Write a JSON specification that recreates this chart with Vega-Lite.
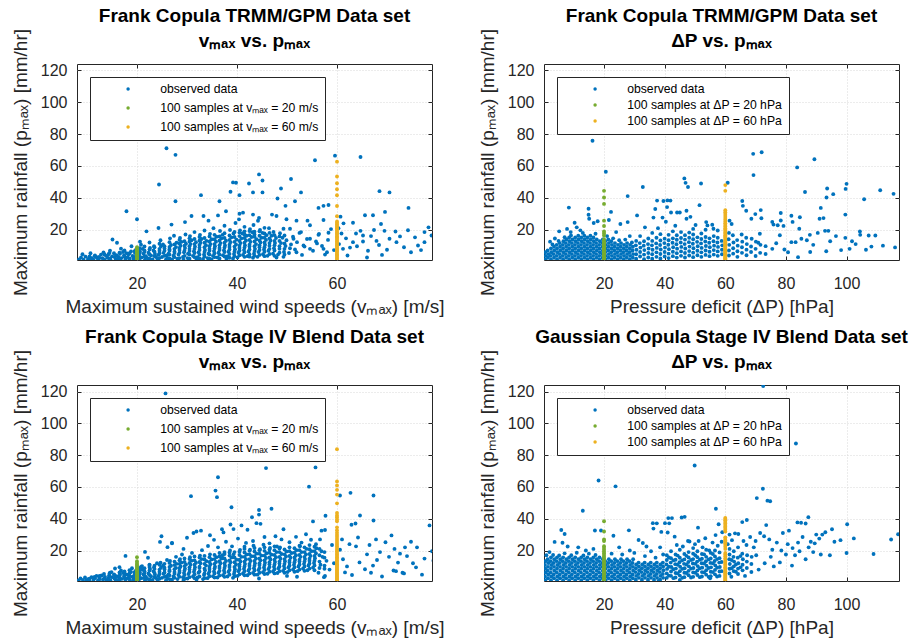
{
"$schema":"https://vega.github.io/schema/vega-lite/v6.json",
"background":"white",
"padding":{"left":10,"top":6,"right":2,"bottom":2},
"config":{
"font":"Liberation Sans",
"view":{"stroke":"#262626","strokeWidth":1},
"axis":{"labelFont":"Liberation Sans","labelFontSize":16,"labelColor":"#262626","titleFont":"Liberation Sans","titleFontSize":19,"titleFontWeight":"normal","titleColor":"#262626","gridColor":"#d9d9d9","gridDash":[1,2],"gridWidth":1,"tickColor":"#262626","tickSize":-4,"tickWidth":1,"domain":false,"labelFlush":false,"labelOverlap":false,"minExtent":0},
"axisX":{"labelPadding":19,"titlePadding":6},
"axisY":{"labelPadding":14,"titlePadding":10},
"title":{"font":"Liberation Sans","fontSize":19,"fontWeight":"bold","color":"#000000","lineHeight":25,"frame":"group","anchor":"middle","offset":-23},
"legend":{"orient":"top-left","offset":13,"padding":6,"strokeColor":"#262626","fillColor":"white","strokeWidth":1,"labelFont":"Liberation Sans","labelFontSize":12.2,"labelColor":"#000000","labelLimit":300,"symbolSize":12,"symbolType":"circle","symbolStrokeWidth":0,"symbolOffset":26,"labelOffset":26,"rowPadding":6,"cornerRadius":0}
},
"datasets":{
"p1o":[
{"x":8.4,"y":1.4},{"x":8.8,"y":2.6},{"x":9.3,"y":1.2},{"x":9.7,"y":3.1},{"x":9.1,"y":4.6},
{"x":10.2,"y":1.6},{"x":10.5,"y":3.3},{"x":10.9,"y":2.2},{"x":11.3,"y":1.2},{"x":11.6,"y":3.9},{"x":11.9,"y":2.7},{"x":10.7,"y":5.2},
{"x":12.2,"y":1.3},{"x":12.4,"y":3.0},{"x":12.8,"y":4.4},{"x":13.1,"y":2.1},{"x":13.5,"y":1.2},{"x":13.8,"y":3.6},{"x":13.3,"y":5.8},
{"x":14.1,"y":2.4},{"x":14.3,"y":4.6},{"x":14.7,"y":1.3},{"x":15.0,"y":3.3},{"x":15.4,"y":5.2},{"x":15.7,"y":1.9},{"x":15.9,"y":4.0},{"x":14.6,"y":6.9},
{"x":16.1,"y":1.4},{"x":16.3,"y":3.0},{"x":16.6,"y":4.9},{"x":16.9,"y":2.2},{"x":17.2,"y":6.0},{"x":17.4,"y":3.8},{"x":17.7,"y":1.5},{"x":17.9,"y":5.3},{"x":16.8,"y":8.1},
{"x":18.1,"y":2.8},{"x":18.3,"y":4.6},{"x":18.5,"y":1.2},{"x":18.8,"y":6.4},{"x":19.1,"y":3.5},{"x":19.3,"y":1.9},{"x":19.6,"y":5.4},{"x":19.8,"y":7.4},{"x":18.9,"y":9.6},
{"x":20.2,"y":1.5},{"x":20.4,"y":4.0},{"x":20.6,"y":6.2},{"x":20.9,"y":2.6},{"x":21.1,"y":8.0},{"x":21.3,"y":5.0},{"x":21.6,"y":1.3},{"x":21.8,"y":3.4},{"x":21.5,"y":7.0},{"x":20.8,"y":10.6},
{"x":22.1,"y":2.2},{"x":22.3,"y":5.6},{"x":22.6,"y":8.6},{"x":22.8,"y":3.9},{"x":23.1,"y":1.4},{"x":23.3,"y":7.0},{"x":23.6,"y":4.8},{"x":23.8,"y":2.9},{"x":23.4,"y":9.6},{"x":22.5,"y":12.0},
{"x":24.1,"y":1.6},{"x":24.3,"y":4.2},{"x":24.5,"y":6.8},{"x":24.8,"y":9.6},{"x":25.0,"y":2.9},{"x":25.3,"y":5.5},{"x":25.5,"y":8.2},{"x":25.8,"y":1.3},{"x":25.9,"y":3.8},{"x":25.2,"y":10.8},{"x":24.7,"y":13.4},
{"x":26.1,"y":2.3},{"x":26.3,"y":5.0},{"x":26.5,"y":7.8},{"x":26.8,"y":10.4},{"x":27.0,"y":1.4},{"x":27.3,"y":3.7},{"x":27.5,"y":6.4},{"x":27.8,"y":9.1},{"x":27.9,"y":11.8},{"x":26.6,"y":14.6},{"x":27.4,"y":16.2},
{"x":28.1,"y":1.8},{"x":28.3,"y":4.4},{"x":28.5,"y":7.2},{"x":28.7,"y":10.0},{"x":28.9,"y":12.4},{"x":29.2,"y":2.9},{"x":29.4,"y":5.8},{"x":29.6,"y":8.5},{"x":29.8,"y":11.2},{"x":29.3,"y":1.2},{"x":28.6,"y":14.8},{"x":29.7,"y":17.0},
{"x":30.1,"y":2.2},{"x":30.2,"y":5.0},{"x":30.5,"y":8.0},{"x":30.7,"y":11.0},{"x":30.9,"y":13.4},{"x":31.2,"y":3.6},{"x":31.4,"y":6.5},{"x":31.6,"y":9.4},{"x":31.8,"y":12.2},{"x":31.9,"y":1.5},{"x":30.6,"y":16.0},{"x":31.5,"y":18.5},
{"x":32.1,"y":2.8},{"x":32.3,"y":5.8},{"x":32.5,"y":8.8},{"x":32.7,"y":11.8},{"x":32.9,"y":14.2},{"x":33.2,"y":1.7},{"x":33.4,"y":4.4},{"x":33.6,"y":7.3},{"x":33.8,"y":10.3},{"x":33.9,"y":13.0},{"x":32.6,"y":16.8},{"x":33.5,"y":19.5},
{"x":34.1,"y":2.2},{"x":34.3,"y":5.0},{"x":34.5,"y":8.0},{"x":34.7,"y":11.0},{"x":34.9,"y":14.0},{"x":35.2,"y":3.6},{"x":35.4,"y":6.6},{"x":35.6,"y":9.6},{"x":35.8,"y":12.5},{"x":35.9,"y":15.6},{"x":34.6,"y":17.4},{"x":35.3,"y":21.0},{"x":34.9,"y":1.4},
{"x":36.1,"y":2.6},{"x":36.3,"y":5.6},{"x":36.5,"y":8.6},{"x":36.7,"y":11.6},{"x":36.9,"y":14.6},{"x":37.1,"y":16.8},{"x":37.2,"y":4.0},{"x":37.4,"y":7.1},{"x":37.6,"y":10.1},{"x":37.8,"y":13.1},{"x":37.9,"y":1.8},{"x":36.6,"y":19.2},{"x":37.5,"y":22.5},
{"x":38.1,"y":3.2},{"x":38.3,"y":6.2},{"x":38.5,"y":9.2},{"x":38.7,"y":12.2},{"x":38.9,"y":15.2},{"x":39.2,"y":2.0},{"x":39.4,"y":4.8},{"x":39.6,"y":7.8},{"x":39.8,"y":10.8},{"x":39.9,"y":13.8},{"x":39.3,"y":17.6},{"x":38.6,"y":19.8},{"x":39.7,"y":24.2},
{"x":40.1,"y":2.6},{"x":40.3,"y":5.6},{"x":40.5,"y":8.6},{"x":40.7,"y":11.6},{"x":40.9,"y":14.6},{"x":41.1,"y":17.6},{"x":41.2,"y":4.2},{"x":41.4,"y":7.2},{"x":41.6,"y":10.2},{"x":41.8,"y":13.2},{"x":41.9,"y":16.2},{"x":40.6,"y":19.6},{"x":41.5,"y":21.8},{"x":40.4,"y":26.5},
{"x":42.1,"y":3.4},{"x":42.3,"y":6.4},{"x":42.5,"y":9.4},{"x":42.7,"y":12.4},{"x":42.9,"y":15.4},{"x":43.1,"y":18.4},{"x":43.2,"y":2.4},{"x":43.4,"y":5.0},{"x":43.6,"y":8.0},{"x":43.8,"y":11.0},{"x":43.9,"y":14.0},{"x":43.5,"y":17.0},{"x":42.6,"y":20.4},{"x":43.3,"y":23.0},
{"x":44.1,"y":3.0},{"x":44.3,"y":6.0},{"x":44.5,"y":9.0},{"x":44.7,"y":12.0},{"x":44.9,"y":15.0},{"x":45.1,"y":18.0},{"x":45.2,"y":4.6},{"x":45.4,"y":7.6},{"x":45.6,"y":10.6},{"x":45.8,"y":13.6},{"x":45.9,"y":16.6},{"x":44.6,"y":19.8},{"x":45.5,"y":21.2},{"x":44.2,"y":25.6},
{"x":46.1,"y":3.6},{"x":46.3,"y":6.8},{"x":46.5,"y":10.0},{"x":46.7,"y":13.2},{"x":46.9,"y":16.2},{"x":47.2,"y":5.0},{"x":47.4,"y":8.4},{"x":47.6,"y":11.6},{"x":47.8,"y":14.8},{"x":47.9,"y":2.6},{"x":47.3,"y":18.6},{"x":46.4,"y":21.0},
{"x":48.2,"y":4.4},{"x":48.5,"y":8.0},{"x":48.8,"y":11.6},{"x":49.1,"y":15.0},{"x":49.4,"y":6.0},{"x":49.7,"y":9.8},{"x":49.9,"y":13.4},{"x":48.6,"y":17.8},{"x":49.3,"y":3.0},
{"x":10.5,"y":2.0},{"x":11.5,"y":3.4},{"x":12.5,"y":2.2},{"x":13.5,"y":4.5},{"x":14.5,"y":2.0},{"x":14.5,"y":5.5},{"x":15.5,"y":3.0},{"x":16.5,"y":2.0},{"x":16.5,"y":5.6},{"x":17.5,"y":3.2},{"x":17.5,"y":7.0},{"x":18.5,"y":2.0},{"x":18.5,"y":5.2},{"x":19.5,"y":3.0},{"x":19.5,"y":6.6},
{"x":20.5,"y":2.0},{"x":20.5,"y":5.2},{"x":20.5,"y":8.4},{"x":21.5,"y":3.2},{"x":21.5,"y":6.2},{"x":21.5,"y":9.5},{"x":22.5,"y":1.9},{"x":22.5,"y":4.6},{"x":22.5,"y":7.6},{"x":23.5,"y":3.4},{"x":23.5,"y":6.2},{"x":23.5,"y":9.0},
{"x":24.5,"y":2.2},{"x":24.5,"y":5.2},{"x":24.5,"y":8.0},{"x":24.5,"y":11.2},{"x":25.5,"y":3.6},{"x":25.5,"y":6.8},{"x":25.5,"y":9.6},{"x":26.5,"y":2.0},{"x":26.5,"y":4.4},{"x":26.5,"y":6.8},{"x":26.5,"y":9.2},{"x":26.5,"y":12.2},
{"x":27.5,"y":2.8},{"x":27.5,"y":5.4},{"x":27.5,"y":8.0},{"x":27.5,"y":10.8},{"x":28.5,"y":2.2},{"x":28.5,"y":5.6},{"x":28.5,"y":8.6},{"x":28.5,"y":11.4},{"x":28.5,"y":13.6},{"x":29.5,"y":3.6},{"x":29.5,"y":6.8},{"x":29.5,"y":10.0},{"x":29.5,"y":12.8},
{"x":30.5,"y":1.8},{"x":30.5,"y":4.4},{"x":30.5,"y":6.6},{"x":30.5,"y":9.6},{"x":30.5,"y":12.6},{"x":30.5,"y":14.6},{"x":31.5,"y":2.8},{"x":31.5,"y":5.4},{"x":31.5,"y":8.0},{"x":31.5,"y":11.0},{"x":31.5,"y":14.2},
{"x":32.5,"y":2.0},{"x":32.5,"y":4.4},{"x":32.5,"y":7.2},{"x":32.5,"y":10.4},{"x":32.5,"y":13.2},{"x":32.5,"y":15.4},{"x":33.5,"y":3.2},{"x":33.5,"y":6.0},{"x":33.5,"y":9.0},{"x":33.5,"y":11.8},{"x":33.5,"y":14.8},
{"x":34.5,"y":1.8},{"x":34.5,"y":4.4},{"x":34.5,"y":6.8},{"x":34.5,"y":9.6},{"x":34.5,"y":12.6},{"x":34.5,"y":15.8},{"x":35.5,"y":2.8},{"x":35.5,"y":5.2},{"x":35.5,"y":8.2},{"x":35.5,"y":11.0},{"x":35.5,"y":14.0},{"x":35.5,"y":16.8},
{"x":36.5,"y":2.0},{"x":36.5,"y":4.4},{"x":36.5,"y":7.2},{"x":36.5,"y":10.2},{"x":36.5,"y":13.2},{"x":36.5,"y":15.8},{"x":37.5,"y":3.2},{"x":37.5,"y":6.0},{"x":37.5,"y":8.8},{"x":37.5,"y":11.8},{"x":37.5,"y":14.8},{"x":37.5,"y":17.8},
{"x":38.5,"y":2.4},{"x":38.5,"y":4.8},{"x":38.5,"y":7.6},{"x":38.5,"y":10.6},{"x":38.5,"y":13.6},{"x":38.5,"y":16.4},{"x":39.5,"y":3.4},{"x":39.5,"y":6.4},{"x":39.5,"y":9.4},{"x":39.5,"y":12.4},{"x":39.5,"y":15.4},{"x":39.5,"y":18.6},
{"x":40.5,"y":4.0},{"x":40.5,"y":7.0},{"x":40.5,"y":10.0},{"x":40.5,"y":13.0},{"x":40.5,"y":16.0},{"x":40.5,"y":18.2},{"x":41.5,"y":3.0},{"x":41.5,"y":5.8},{"x":41.5,"y":8.8},{"x":41.5,"y":11.8},{"x":41.5,"y":14.8},{"x":41.5,"y":17.0},{"x":41.5,"y":19.0},
{"x":42.5,"y":4.6},{"x":42.5,"y":7.6},{"x":42.5,"y":10.6},{"x":42.5,"y":13.6},{"x":42.5,"y":16.6},{"x":42.5,"y":19.2},{"x":43.5,"y":3.6},{"x":43.5,"y":6.6},{"x":43.5,"y":9.6},{"x":43.5,"y":12.6},{"x":43.5,"y":15.6},{"x":43.5,"y":18.8},
{"x":44.5,"y":4.2},{"x":44.5,"y":7.2},{"x":44.5,"y":10.2},{"x":44.5,"y":13.2},{"x":44.5,"y":16.2},{"x":44.5,"y":19.0},{"x":45.5,"y":3.4},{"x":45.5,"y":6.2},{"x":45.5,"y":9.0},{"x":45.5,"y":12.0},{"x":45.5,"y":15.0},{"x":45.5,"y":17.6},
{"x":46.5,"y":4.8},{"x":46.5,"y":8.0},{"x":46.5,"y":11.6},{"x":46.5,"y":14.6},{"x":46.5,"y":18.0},{"x":47.5,"y":3.6},{"x":47.5,"y":7.0},{"x":47.5,"y":10.2},{"x":47.5,"y":13.0},{"x":47.5,"y":16.6},{"x":48.5,"y":5.6},{"x":48.5,"y":9.6},{"x":48.5,"y":13.0},{"x":48.5,"y":15.8},{"x":49.5,"y":4.4},{"x":49.5,"y":8.0},{"x":49.5,"y":11.4},{"x":49.5,"y":16.4},
{"x":50.4,"y":5.4},{"x":50.8,"y":10.8},{"x":51.2,"y":15.6},{"x":51.6,"y":7.6},{"x":52.0,"y":12.2},{"x":52.5,"y":18.0},{"x":53.0,"y":4.2},{"x":53.5,"y":9.4},{"x":54.0,"y":14.2},{"x":54.6,"y":22.8},{"x":55.2,"y":6.8},{"x":55.8,"y":12.6},{"x":56.4,"y":17.4},{"x":57.0,"y":9.8},{"x":57.6,"y":4.4},{"x":58.2,"y":13.6},{"x":58.8,"y":20.4},{"x":59.4,"y":7.2},{"x":50.6,"y":20.6},{"x":51.9,"y":25.7},{"x":53.3,"y":10.1},{"x":54.6,"y":8.0},{"x":56.0,"y":11.4},{"x":57.3,"y":8.0},{"x":58.0,"y":5.9},{"x":56.3,"y":16.8},{"x":58.3,"y":18.1},{"x":49.3,"y":20.6},{"x":54.1,"y":25.7},{"x":57.3,"y":26.1},{"x":51.9,"y":5.9},{"x":50.6,"y":8.4},{"x":52.8,"y":18.5},{"x":51.3,"y":14.3},{"x":54.6,"y":14.3},
{"x":60.7,"y":28.2},{"x":61.3,"y":24.0},{"x":63.2,"y":24.4},{"x":64.7,"y":19.3},{"x":66.8,"y":16.0},{"x":69.5,"y":19.3},{"x":71.7,"y":18.9},{"x":74.2,"y":19.7},{"x":77.5,"y":18.5},{"x":78.9,"y":16.4},{"x":76.2,"y":10.1},{"x":77.5,"y":12.2},{"x":74.8,"y":5.9},{"x":70.5,"y":14.3},{"x":71.9,"y":12.2},{"x":67.9,"y":13.0},{"x":65.2,"y":12.6},{"x":63.2,"y":12.2},{"x":62.6,"y":8.8},{"x":61.2,"y":8.0},{"x":62.1,"y":3.8},{"x":65.2,"y":16.4},{"x":61.8,"y":14.6},{"x":64.0,"y":9.6},{"x":66.2,"y":6.8},{"x":68.4,"y":10.4},{"x":70.0,"y":7.4},{"x":72.6,"y":15.8},{"x":73.4,"y":9.0},{"x":75.6,"y":15.2},{"x":76.8,"y":7.2},{"x":66.0,"y":2.6},{"x":69.0,"y":4.2},{"x":63.8,"y":17.6},{"x":67.4,"y":19.8},{"x":60.4,"y":11.0},{"x":60.9,"y":17.6},
{"x":25.9,"y":71.1},{"x":27.7,"y":67.0},{"x":24.4,"y":48.4},{"x":17.9,"y":31.6},{"x":20.0,"y":26.6},{"x":27.7,"y":37.9},{"x":32.8,"y":41.7},{"x":36.5,"y":37.9},{"x":39.2,"y":49.7},{"x":39.8,"y":49.5},{"x":44.4,"y":54.7},{"x":45.1,"y":50.9},{"x":42.4,"y":49.0},{"x":38.7,"y":43.8},{"x":40.5,"y":41.7},{"x":43.2,"y":43.4},{"x":45.1,"y":43.4},{"x":48.8,"y":45.9},{"x":50.8,"y":51.8},{"x":48.1,"y":39.6},{"x":49.7,"y":35.0},{"x":51.6,"y":37.9},{"x":52.8,"y":43.4},{"x":55.6,"y":63.6},{"x":59.6,"y":66.5},{"x":64.7,"y":65.6},{"x":56.3,"y":33.7},{"x":57.3,"y":35.0},{"x":58.3,"y":35.5},{"x":68.5,"y":44.2},{"x":70.5,"y":43.4},{"x":74.3,"y":33.7},{"x":65.6,"y":29.1},{"x":67.2,"y":29.1},{"x":68.8,"y":23.6},{"x":69.6,"y":31.2},{"x":78.3,"y":21.5},{"x":21.9,"y":19.0},{"x":24.3,"y":21.1},{"x":15.1,"y":13.9},{"x":16.0,"y":11.8},{"x":20.6,"y":12.5},{"x":26.9,"y":23.2},{"x":29.6,"y":24.8},{"x":30.9,"y":28.6},{"x":33.3,"y":28.6},{"x":34.3,"y":25.7},{"x":36.2,"y":29.0},{"x":37.8,"y":31.6},{"x":40.5,"y":30.0},{"x":41.2,"y":30.7},{"x":43.2,"y":29.5},{"x":44.4,"y":27.4},{"x":47.0,"y":29.5},{"x":47.9,"y":28.6},{"x":49.9,"y":26.6},{"x":42.5,"y":3.1},{"x":60.3,"y":21.0}
],
"p1a":[{"x":20,"y":1.2},{"x":20,"y":1.5},{"x":20,"y":1.9},{"x":20,"y":2.2},{"x":20,"y":2.6},{"x":20,"y":3.0},{"x":20,"y":3.3},{"x":20,"y":3.7},{"x":20,"y":4.1},{"x":20,"y":4.5},{"x":20,"y":4.8},{"x":20,"y":5.3},{"x":20,"y":5.7},{"x":20,"y":6.1},{"x":20,"y":6.6},{"x":20,"y":7.0},{"x":20,"y":7.6},{"x":20,"y":8.2},{"x":20,"y":9.0}],
"p1b":[{"x":60,"y":1.5},{"x":60,"y":2.2},{"x":60,"y":3.0},{"x":60,"y":3.9},{"x":60,"y":4.6},{"x":60,"y":5.4},{"x":60,"y":6.3},{"x":60,"y":7.0},{"x":60,"y":7.9},{"x":60,"y":8.6},{"x":60,"y":9.5},{"x":60,"y":10.2},{"x":60,"y":11.1},{"x":60,"y":11.8},{"x":60,"y":12.7},{"x":60,"y":13.6},{"x":60,"y":14.3},{"x":60,"y":15.2},{"x":60,"y":15.9},{"x":60,"y":16.8},{"x":60,"y":17.6},{"x":60,"y":18.3},{"x":60,"y":19.2},{"x":60,"y":20.0},{"x":60,"y":20.9},{"x":60,"y":21.7},{"x":60,"y":22.5},{"x":60,"y":23.4},{"x":60,"y":24.3},{"x":60,"y":25.2},{"x":60,"y":28.5},{"x":60,"y":34.9},{"x":60,"y":41.6},{"x":60,"y":45.4},{"x":60,"y":49.2},{"x":60,"y":53.4},{"x":60,"y":62.7}],
"p2o":[
{"x":0.6,"y":1.3},{"x":0.7,"y":3.6},{"x":0.6,"y":5.9},{"x":1.5,"y":2.4},{"x":1.6,"y":4.7},{"x":1.4,"y":7.0},
{"x":2.5,"y":1.3},{"x":2.4,"y":3.6},{"x":2.6,"y":5.9},{"x":2.5,"y":8.2},{"x":3.5,"y":2.4},{"x":3.4,"y":4.7},{"x":3.6,"y":7.0},{"x":3.5,"y":9.3},{"x":3.0,"y":10.8},
{"x":4.5,"y":1.3},{"x":4.4,"y":3.6},{"x":4.6,"y":5.9},{"x":4.5,"y":8.2},{"x":4.4,"y":10.5},{"x":5.5,"y":2.4},{"x":5.4,"y":4.7},{"x":5.6,"y":7.0},{"x":5.5,"y":9.3},{"x":5.4,"y":11.6},{"x":5.0,"y":13.0},
{"x":6.5,"y":1.3},{"x":6.4,"y":3.6},{"x":6.6,"y":5.9},{"x":6.5,"y":8.2},{"x":6.4,"y":10.5},{"x":6.6,"y":12.8},{"x":7.5,"y":2.4},{"x":7.4,"y":4.7},{"x":7.6,"y":7.0},{"x":7.5,"y":9.3},{"x":7.4,"y":11.6},{"x":7.6,"y":13.9},{"x":7.0,"y":15.3},
{"x":8.5,"y":1.3},{"x":8.4,"y":3.6},{"x":8.6,"y":5.9},{"x":8.5,"y":8.2},{"x":8.4,"y":10.5},{"x":8.6,"y":12.8},{"x":8.5,"y":15.1},{"x":9.5,"y":2.4},{"x":9.4,"y":4.7},{"x":9.6,"y":7.0},{"x":9.5,"y":9.3},{"x":9.4,"y":11.6},{"x":9.6,"y":13.9},{"x":9.1,"y":16.4},
{"x":10.5,"y":1.3},{"x":10.4,"y":3.6},{"x":10.6,"y":5.9},{"x":10.5,"y":8.2},{"x":10.4,"y":10.5},{"x":10.6,"y":12.8},{"x":10.5,"y":15.1},{"x":11.5,"y":2.4},{"x":11.4,"y":4.7},{"x":11.6,"y":7.0},{"x":11.5,"y":9.3},{"x":11.4,"y":11.6},{"x":11.6,"y":13.9},{"x":11.5,"y":16.2},
{"x":12.5,"y":1.3},{"x":12.4,"y":3.6},{"x":12.6,"y":5.9},{"x":12.5,"y":8.2},{"x":12.4,"y":10.5},{"x":12.6,"y":12.8},{"x":12.5,"y":15.1},{"x":13.5,"y":2.4},{"x":13.4,"y":4.7},{"x":13.6,"y":7.0},{"x":13.5,"y":9.3},{"x":13.4,"y":11.6},{"x":13.6,"y":13.9},{"x":13.5,"y":16.2},{"x":13.0,"y":18.0},
{"x":14.5,"y":1.3},{"x":14.4,"y":3.6},{"x":14.6,"y":5.9},{"x":14.5,"y":8.2},{"x":14.4,"y":10.5},{"x":14.6,"y":12.8},{"x":14.5,"y":15.1},{"x":15.5,"y":2.4},{"x":15.4,"y":4.7},{"x":15.6,"y":7.0},{"x":15.5,"y":9.3},{"x":15.4,"y":11.6},{"x":15.6,"y":13.9},{"x":15.5,"y":16.2},
{"x":16.5,"y":1.3},{"x":16.4,"y":3.6},{"x":16.6,"y":5.9},{"x":16.5,"y":8.2},{"x":16.4,"y":10.5},{"x":16.6,"y":12.8},{"x":16.5,"y":15.1},{"x":17.5,"y":2.4},{"x":17.4,"y":4.7},{"x":17.6,"y":7.0},{"x":17.5,"y":9.3},{"x":17.4,"y":11.6},{"x":17.6,"y":13.9},{"x":17.2,"y":17.5},
{"x":18.5,"y":1.3},{"x":18.4,"y":3.6},{"x":18.6,"y":5.9},{"x":18.5,"y":8.2},{"x":18.4,"y":10.5},{"x":18.6,"y":12.8},{"x":19.5,"y":2.4},{"x":19.4,"y":4.7},{"x":19.6,"y":7.0},{"x":19.5,"y":9.3},{"x":19.4,"y":11.6},{"x":19.6,"y":13.9},
{"x":20.5,"y":1.3},{"x":20.6,"y":3.6},{"x":20.4,"y":5.9},{"x":20.5,"y":8.2},{"x":20.6,"y":10.5},{"x":20.4,"y":12.8},{"x":21.5,"y":2.4},{"x":21.6,"y":4.7},{"x":21.4,"y":7.0},{"x":21.5,"y":9.3},{"x":21.6,"y":11.6},{"x":21.4,"y":13.9},{"x":21.0,"y":16.0},
{"x":22.5,"y":1.3},{"x":22.6,"y":3.6},{"x":22.4,"y":5.9},{"x":22.5,"y":8.2},{"x":22.6,"y":10.5},{"x":22.4,"y":12.8},{"x":23.5,"y":2.4},{"x":23.6,"y":4.7},{"x":23.4,"y":7.0},{"x":23.5,"y":9.3},{"x":23.6,"y":11.6},{"x":23.0,"y":14.6},
{"x":24.5,"y":1.3},{"x":24.6,"y":3.6},{"x":24.4,"y":5.9},{"x":24.5,"y":8.2},{"x":24.6,"y":10.5},{"x":25.5,"y":2.4},{"x":25.6,"y":4.7},{"x":25.4,"y":7.0},{"x":25.5,"y":9.3},{"x":25.6,"y":11.6},{"x":25.0,"y":13.4},
{"x":26.5,"y":1.3},{"x":26.6,"y":3.6},{"x":26.4,"y":5.9},{"x":26.5,"y":8.2},{"x":26.6,"y":10.5},{"x":27.5,"y":2.4},{"x":27.6,"y":4.7},{"x":27.4,"y":7.0},{"x":27.5,"y":9.3},{"x":27.6,"y":11.6},{"x":27.0,"y":13.8},
{"x":28.5,"y":1.3},{"x":28.6,"y":3.6},{"x":28.4,"y":5.9},{"x":28.5,"y":8.2},{"x":28.6,"y":10.5},{"x":29.5,"y":2.4},{"x":29.6,"y":4.7},{"x":29.4,"y":7.0},{"x":29.5,"y":9.3},{"x":29.2,"y":12.0},
{"x":30.6,"y":1.8},{"x":30.6,"y":4.6},{"x":30.7,"y":7.4},{"x":30.5,"y":10.2},{"x":30.6,"y":13.0},
{"x":31.9,"y":3.2},{"x":31.9,"y":6.0},{"x":32.0,"y":8.8},{"x":31.8,"y":11.6},{"x":31.9,"y":16.0},
{"x":33.2,"y":1.5},{"x":33.2,"y":4.4},{"x":33.3,"y":7.2},{"x":33.1,"y":10.0},{"x":33.2,"y":12.8},
{"x":34.6,"y":2.6},{"x":34.6,"y":5.4},{"x":34.7,"y":8.2},{"x":34.5,"y":11.0},{"x":34.6,"y":14.5},
{"x":35.9,"y":1.8},{"x":35.9,"y":4.6},{"x":36.0,"y":7.4},{"x":35.8,"y":10.2},{"x":35.9,"y":13.0},{"x":35.9,"y":18.0},
{"x":37.3,"y":3.0},{"x":37.3,"y":5.8},{"x":37.4,"y":8.6},{"x":37.2,"y":11.4},{"x":37.3,"y":15.0},
{"x":38.6,"y":2.0},{"x":38.6,"y":4.8},{"x":38.7,"y":7.6},{"x":38.5,"y":10.4},{"x":38.6,"y":13.2},{"x":38.6,"y":17.2},
{"x":40.0,"y":3.2},{"x":40.0,"y":6.0},{"x":40.1,"y":8.8},{"x":39.9,"y":11.6},{"x":40.0,"y":14.4},
{"x":41.3,"y":2.2},{"x":41.3,"y":5.0},{"x":41.4,"y":7.8},{"x":41.2,"y":10.6},{"x":41.3,"y":13.4},{"x":41.3,"y":16.8},
{"x":42.7,"y":3.4},{"x":42.7,"y":6.2},{"x":42.8,"y":9.0},{"x":42.6,"y":11.8},{"x":42.7,"y":14.6},{"x":42.7,"y":19.0},
{"x":44.0,"y":2.5},{"x":44.0,"y":5.3},{"x":44.1,"y":8.1},{"x":43.9,"y":10.9},{"x":44.0,"y":13.7},{"x":44.0,"y":16.5},
{"x":45.4,"y":3.6},{"x":45.4,"y":6.4},{"x":45.5,"y":9.2},{"x":45.3,"y":12.0},{"x":45.4,"y":14.8},{"x":45.4,"y":18.5},
{"x":46.7,"y":2.6},{"x":46.7,"y":5.4},{"x":46.8,"y":8.2},{"x":46.6,"y":11.0},{"x":46.7,"y":13.8},{"x":46.7,"y":16.6},
{"x":48.1,"y":3.8},{"x":48.1,"y":6.6},{"x":48.2,"y":9.4},{"x":48.0,"y":12.2},{"x":48.1,"y":15.0},{"x":48.1,"y":18.2},
{"x":49.4,"y":2.8},{"x":49.4,"y":5.6},{"x":49.5,"y":8.4},{"x":49.3,"y":11.2},{"x":49.4,"y":14.0},{"x":49.4,"y":17.0},{"x":49.4,"y":20.5},
{"x":50.8,"y":4.0},{"x":50.8,"y":6.8},{"x":50.9,"y":9.6},{"x":50.7,"y":12.4},{"x":50.8,"y":15.2},
{"x":52.1,"y":3.0},{"x":52.1,"y":5.8},{"x":52.2,"y":8.6},{"x":52.0,"y":11.4},{"x":52.1,"y":14.2},{"x":52.1,"y":17.6},
{"x":53.5,"y":4.2},{"x":53.5,"y":7.0},{"x":53.6,"y":9.8},{"x":53.4,"y":12.6},{"x":53.5,"y":15.4},{"x":53.5,"y":20.0},
{"x":54.8,"y":3.4},{"x":54.8,"y":6.2},{"x":54.9,"y":9.0},{"x":54.7,"y":11.8},{"x":54.8,"y":14.6},
{"x":56.2,"y":4.4},{"x":56.2,"y":7.2},{"x":56.3,"y":10.0},{"x":56.1,"y":12.8},{"x":56.2,"y":16.0},
{"x":57.5,"y":3.6},{"x":57.5,"y":6.4},{"x":57.6,"y":9.2},{"x":57.4,"y":12.0},{"x":57.5,"y":15.0},{"x":57.5,"y":19.5},
{"x":58.9,"y":4.6},{"x":58.9,"y":7.4},{"x":59.0,"y":10.2},{"x":58.8,"y":13.0},
{"x":61.2,"y":3.8},{"x":61.2,"y":7.0},{"x":61.3,"y":10.5},{"x":61.1,"y":14.0},{"x":61.2,"y":18.0},
{"x":62.6,"y":5.0},{"x":62.6,"y":8.4},{"x":62.7,"y":12.0},{"x":62.5,"y":16.5},
{"x":64.0,"y":3.0},{"x":64.0,"y":6.5},{"x":64.1,"y":10.0},{"x":63.9,"y":13.5},
{"x":65.5,"y":5.5},{"x":65.5,"y":9.0},{"x":65.6,"y":12.5},{"x":65.4,"y":17.0},
{"x":67.0,"y":4.0},{"x":67.0,"y":7.5},{"x":67.1,"y":11.0},{"x":66.9,"y":15.0},
{"x":68.5,"y":6.0},{"x":68.5,"y":9.5},{"x":70.0,"y":3.5},{"x":70.0,"y":8.0},{"x":70.1,"y":12.5},{"x":71.5,"y":5.5},{"x":71.6,"y":10.5},{"x":71.4,"y":17.5},{"x":73.3,"y":4.8},
{"x":16.2,"y":75.8},{"x":20.6,"y":56.4},{"x":8.4,"y":33.9},{"x":27.8,"y":41.1},{"x":32.8,"y":46.8},{"x":46.5,"y":52.2},{"x":46.9,"y":49.4},{"x":47.7,"y":46.8},{"x":52.0,"y":49.0},{"x":37.5,"y":38.3},{"x":41.9,"y":38.3},{"x":51.5,"y":35.4},{"x":69.2,"y":67.6},{"x":72.0,"y":68.6},{"x":69.3,"y":54.3},{"x":83.7,"y":59.1},{"x":89.4,"y":64.2},{"x":86.3,"y":43.7},{"x":93.6,"y":45.9},{"x":93.4,"y":40.2},{"x":95.6,"y":42.3},{"x":100.0,"y":48.8},{"x":99.7,"y":45.6},{"x":105.8,"y":39.1},{"x":111.1,"y":44.8},{"x":115.5,"y":42.5},{"x":116.0,"y":8.9},{"x":60.8,"y":49.5},{"x":65.6,"y":38.0},{"x":65.8,"y":35.0},{"x":66.9,"y":31.9},{"x":14.9,"y":33.2},{"x":14.9,"y":29.4},{"x":15.1,"y":26.9},{"x":10.3,"y":24.4},{"x":16.6,"y":24.2},{"x":17.9,"y":25.3},{"x":22.3,"y":31.2},{"x":21.6,"y":26.1},{"x":25.4,"y":23.6},{"x":27.8,"y":24.8},{"x":30.9,"y":29.0},{"x":36.3,"y":27.6},{"x":36.9,"y":33.0},{"x":39.6,"y":38.0},{"x":40.9,"y":38.4},{"x":40.8,"y":34.2},{"x":42.1,"y":30.8},{"x":39.3,"y":27.6},{"x":40.4,"y":25.0},{"x":44.1,"y":30.8},{"x":45.0,"y":30.8},{"x":47.2,"y":31.9},{"x":47.2,"y":26.9},{"x":48.5,"y":28.1},{"x":53.7,"y":24.8},{"x":54.1,"y":22.7},{"x":55.7,"y":23.1},{"x":56.1,"y":20.6},{"x":61.4,"y":25.7},{"x":62.1,"y":23.6},{"x":68.6,"y":26.9},{"x":69.9,"y":29.8},{"x":71.7,"y":32.3},{"x":71.9,"y":27.2},{"x":75.5,"y":24.9},{"x":75.9,"y":23.2},{"x":77.3,"y":22.8},{"x":78.3,"y":30.5},{"x":78.3,"y":25.8},{"x":79.2,"y":22.4},{"x":81.8,"y":28.8},{"x":82.2,"y":24.9},{"x":84.4,"y":20.6},{"x":84.6,"y":27.8},{"x":87.9,"y":16.8},{"x":91.5,"y":33.7},{"x":91.1,"y":26.9},{"x":92.4,"y":27.3},{"x":94.0,"y":19.3},{"x":92.9,"y":19.3},{"x":99.6,"y":29.5},{"x":104.4,"y":18.9},{"x":107.3,"y":16.4},{"x":109.5,"y":16.4},{"x":84.0,"y":2.8},{"x":93.3,"y":6.5},{"x":98.2,"y":7.2},{"x":101.0,"y":8.0},{"x":106.4,"y":7.4},{"x":94.6,"y":12.8},{"x":99.6,"y":14.9},{"x":101.8,"y":12.8},{"x":104.5,"y":16.8},{"x":80.7,"y":5.9},{"x":81.8,"y":12.2},{"x":83.2,"y":12.2},{"x":85.1,"y":14.3},{"x":86.9,"y":13.4},{"x":75.5,"y":8.0},{"x":73.3,"y":9.7},{"x":70.9,"y":11.8},{"x":68.7,"y":14.3},{"x":89.0,"y":10.5},{"x":90.5,"y":18.0},{"x":96.5,"y":16.0},{"x":103.0,"y":11.0},{"x":108.2,"y":9.4},{"x":112.0,"y":10.0},{"x":78.0,"y":16.5},{"x":76.8,"y":11.5},{"x":79.5,"y":7.6},{"x":88.0,"y":6.0},{"x":5.2,"y":19.0},{"x":7.8,"y":20.5},{"x":11.0,"y":21.5},{"x":12.2,"y":19.6},{"x":9.0,"y":18.5},{"x":3.8,"y":14.5},{"x":2.2,"y":12.5},{"x":24.0,"y":18.5},{"x":28.5,"y":16.0},{"x":33.5,"y":21.5},{"x":37.8,"y":21.0},{"x":43.5,"y":22.5},{"x":50.2,"y":23.0}
],
"p2a":[{"x":20,"y":1.1},{"x":20,"y":1.5},{"x":20,"y":1.9},{"x":20,"y":2.3},{"x":20,"y":2.7},{"x":20,"y":3.1},{"x":20,"y":3.5},{"x":20,"y":3.9},{"x":20,"y":4.4},{"x":20,"y":4.8},{"x":20,"y":5.2},{"x":20,"y":5.6},{"x":20,"y":6.1},{"x":20,"y":6.5},{"x":20,"y":6.9},{"x":20,"y":7.4},{"x":20,"y":7.8},{"x":20,"y":8.3},{"x":20,"y":8.8},{"x":20,"y":9.3},{"x":20,"y":9.8},{"x":20,"y":10.3},{"x":20,"y":10.9},{"x":20,"y":11.5},{"x":20,"y":12.2},{"x":20,"y":13.0},{"x":20,"y":14.1},{"x":20,"y":16.3},{"x":20,"y":17.6},{"x":20,"y":18.9},{"x":20,"y":22.3},{"x":20,"y":25.7},{"x":20,"y":36.2},{"x":20,"y":40.2},{"x":20,"y":44.4}],
"p2b":[{"x":60,"y":1.1},{"x":60,"y":1.6},{"x":60,"y":2.1},{"x":60,"y":2.6},{"x":60,"y":3.1},{"x":60,"y":3.7},{"x":60,"y":4.2},{"x":60,"y":4.8},{"x":60,"y":5.3},{"x":60,"y":5.9},{"x":60,"y":6.4},{"x":60,"y":7.0},{"x":60,"y":7.6},{"x":60,"y":8.2},{"x":60,"y":8.8},{"x":60,"y":9.4},{"x":60,"y":10.1},{"x":60,"y":10.7},{"x":60,"y":11.4},{"x":60,"y":12.1},{"x":60,"y":12.8},{"x":60,"y":13.5},{"x":60,"y":14.2},{"x":60,"y":15.0},{"x":60,"y":15.8},{"x":60,"y":16.6},{"x":60,"y":17.4},{"x":60,"y":18.3},{"x":60,"y":19.2},{"x":60,"y":20.1},{"x":60,"y":21.0},{"x":60,"y":22.0},{"x":60,"y":23.0},{"x":60,"y":24.0},{"x":60,"y":25.1},{"x":60,"y":26.2},{"x":60,"y":27.4},{"x":60,"y":28.6},{"x":60,"y":29.8},{"x":60,"y":31.0},{"x":60,"y":32.2},{"x":60,"y":44.4},{"x":60,"y":48.0}],
"p3o":[
{"x":8.3,"y":1.1},{"x":8.7,"y":2.4},{"x":9.2,"y":1.5},{"x":9.6,"y":3.0},{"x":9.9,"y":1.2},
{"x":10.2,"y":2.0},{"x":10.5,"y":1.0},{"x":10.9,"y":3.2},{"x":11.3,"y":1.6},{"x":11.6,"y":2.6},{"x":11.9,"y":4.0},
{"x":12.2,"y":1.2},{"x":12.5,"y":2.9},{"x":12.9,"y":4.3},{"x":13.2,"y":1.8},{"x":13.6,"y":3.4},{"x":13.9,"y":1.1},{"x":13.4,"y":5.2},
{"x":14.2,"y":2.2},{"x":14.4,"y":4.1},{"x":14.7,"y":1.2},{"x":15.0,"y":3.2},{"x":15.4,"y":5.0},{"x":15.7,"y":1.7},{"x":15.9,"y":3.8},{"x":14.9,"y":6.4},
{"x":16.1,"y":1.3},{"x":16.4,"y":3.0},{"x":16.6,"y":4.9},{"x":16.9,"y":2.1},{"x":17.2,"y":5.9},{"x":17.4,"y":3.7},{"x":17.7,"y":1.4},{"x":17.9,"y":5.0},{"x":16.8,"y":7.4},
{"x":18.1,"y":2.6},{"x":18.3,"y":4.6},{"x":18.6,"y":1.2},{"x":18.8,"y":6.5},{"x":19.1,"y":3.5},{"x":19.3,"y":1.8},{"x":19.6,"y":5.5},{"x":19.8,"y":7.4},{"x":19.0,"y":8.8},
{"x":20.2,"y":1.5},{"x":20.4,"y":3.8},{"x":20.6,"y":6.0},{"x":20.9,"y":2.6},{"x":21.1,"y":8.0},{"x":21.3,"y":4.9},{"x":21.6,"y":1.2},{"x":21.8,"y":3.3},{"x":21.5,"y":6.9},{"x":20.8,"y":9.6},
{"x":22.1,"y":2.1},{"x":22.3,"y":5.5},{"x":22.6,"y":8.4},{"x":22.8,"y":3.8},{"x":23.1,"y":1.4},{"x":23.3,"y":6.9},{"x":23.6,"y":4.7},{"x":23.8,"y":2.7},{"x":23.4,"y":9.4},{"x":22.5,"y":10.8},
{"x":24.1,"y":1.6},{"x":24.3,"y":4.0},{"x":24.5,"y":6.6},{"x":24.8,"y":9.2},{"x":25.0,"y":2.8},{"x":25.3,"y":5.4},{"x":25.5,"y":8.0},{"x":25.8,"y":1.3},{"x":25.9,"y":3.8},{"x":25.2,"y":10.6},{"x":24.7,"y":12.4},
{"x":26.1,"y":2.3},{"x":26.3,"y":5.0},{"x":26.5,"y":7.8},{"x":26.8,"y":10.4},{"x":27.0,"y":1.6},{"x":27.3,"y":3.7},{"x":27.5,"y":6.4},{"x":27.8,"y":9.1},{"x":27.9,"y":11.6},{"x":26.6,"y":13.4},
{"x":28.1,"y":2.0},{"x":28.3,"y":4.6},{"x":28.5,"y":7.3},{"x":28.7,"y":10.0},{"x":28.9,"y":12.4},{"x":29.2,"y":3.2},{"x":29.4,"y":5.9},{"x":29.6,"y":8.6},{"x":29.8,"y":11.2},{"x":29.3,"y":1.4},{"x":28.6,"y":14.6},
{"x":30.1,"y":2.4},{"x":30.3,"y":5.2},{"x":30.5,"y":8.1},{"x":30.7,"y":11.0},{"x":30.9,"y":13.6},{"x":31.2,"y":3.7},{"x":31.4,"y":6.6},{"x":31.6,"y":9.5},{"x":31.8,"y":12.3},{"x":31.9,"y":1.8},{"x":30.6,"y":15.8},
{"x":32.1,"y":3.0},{"x":32.3,"y":6.0},{"x":32.5,"y":9.0},{"x":32.7,"y":12.0},{"x":32.9,"y":14.6},{"x":33.2,"y":2.0},{"x":33.4,"y":4.6},{"x":33.6,"y":7.5},{"x":33.8,"y":10.5},{"x":33.9,"y":13.3},{"x":32.6,"y":16.8},
{"x":34.1,"y":2.6},{"x":34.3,"y":5.4},{"x":34.5,"y":8.4},{"x":34.7,"y":11.4},{"x":34.9,"y":14.4},{"x":35.2,"y":3.8},{"x":35.4,"y":6.8},{"x":35.6,"y":9.8},{"x":35.8,"y":12.8},{"x":35.9,"y":15.8},{"x":34.6,"y":17.6},
{"x":36.1,"y":3.0},{"x":36.3,"y":6.0},{"x":36.5,"y":9.0},{"x":36.7,"y":12.0},{"x":36.9,"y":15.0},{"x":37.1,"y":17.0},{"x":37.2,"y":4.4},{"x":37.4,"y":7.4},{"x":37.6,"y":10.4},{"x":37.8,"y":13.4},{"x":37.5,"y":19.0},
{"x":38.1,"y":3.6},{"x":38.3,"y":6.6},{"x":38.5,"y":9.6},{"x":38.7,"y":12.6},{"x":38.9,"y":15.6},{"x":39.2,"y":2.8},{"x":39.4,"y":5.2},{"x":39.6,"y":8.2},{"x":39.8,"y":11.2},{"x":39.9,"y":14.2},{"x":39.3,"y":17.6},{"x":38.6,"y":20.0},
{"x":40.1,"y":4.0},{"x":40.3,"y":7.0},{"x":40.5,"y":10.0},{"x":40.7,"y":13.0},{"x":40.9,"y":16.0},{"x":41.2,"y":5.5},{"x":41.4,"y":8.5},{"x":41.6,"y":11.5},{"x":41.8,"y":14.5},{"x":41.9,"y":17.5},{"x":40.6,"y":20.4},{"x":41.5,"y":22.4},
{"x":42.1,"y":4.4},{"x":42.3,"y":7.4},{"x":42.5,"y":10.4},{"x":42.7,"y":13.4},{"x":42.9,"y":16.4},{"x":43.2,"y":5.9},{"x":43.4,"y":8.9},{"x":43.6,"y":11.9},{"x":43.8,"y":14.9},{"x":43.9,"y":18.0},{"x":42.6,"y":20.5},{"x":43.3,"y":23.0},
{"x":44.1,"y":4.8},{"x":44.3,"y":7.8},{"x":44.5,"y":10.8},{"x":44.7,"y":13.8},{"x":44.9,"y":16.8},{"x":45.2,"y":6.3},{"x":45.4,"y":9.3},{"x":45.6,"y":12.3},{"x":45.8,"y":15.3},{"x":45.9,"y":18.3},{"x":44.6,"y":20.8},{"x":45.3,"y":23.6},
{"x":46.1,"y":5.4},{"x":46.3,"y":8.4},{"x":46.5,"y":11.4},{"x":46.7,"y":14.4},{"x":46.9,"y":17.4},{"x":47.2,"y":6.8},{"x":47.4,"y":9.8},{"x":47.6,"y":12.8},{"x":47.8,"y":15.8},{"x":47.9,"y":19.0},{"x":46.6,"y":21.6},
{"x":48.1,"y":5.8},{"x":48.3,"y":8.8},{"x":48.5,"y":11.8},{"x":48.7,"y":14.8},{"x":48.9,"y":17.8},{"x":49.2,"y":7.2},{"x":49.4,"y":10.2},{"x":49.6,"y":13.2},{"x":49.8,"y":16.2},{"x":49.9,"y":19.4},{"x":48.6,"y":22.0},
{"x":50.1,"y":6.4},{"x":50.3,"y":9.4},{"x":50.5,"y":12.4},{"x":50.7,"y":15.4},{"x":50.9,"y":18.4},{"x":51.2,"y":8.0},{"x":51.4,"y":11.0},{"x":51.6,"y":14.0},{"x":51.8,"y":17.0},{"x":51.9,"y":20.2},
{"x":52.1,"y":7.0},{"x":52.3,"y":10.0},{"x":52.5,"y":13.0},{"x":52.7,"y":16.0},{"x":52.9,"y":19.0},{"x":53.2,"y":8.6},{"x":53.4,"y":11.6},{"x":53.6,"y":14.6},{"x":53.8,"y":17.6},{"x":53.9,"y":21.0},{"x":52.6,"y":22.6},
{"x":54.1,"y":7.6},{"x":54.3,"y":10.6},{"x":54.5,"y":13.6},{"x":54.7,"y":16.6},{"x":54.9,"y":19.6},{"x":55.2,"y":9.2},{"x":55.4,"y":12.2},{"x":55.6,"y":15.2},{"x":55.8,"y":18.2},{"x":55.9,"y":21.4},
{"x":56.3,"y":6.0},{"x":56.7,"y":11.0},{"x":57.1,"y":16.0},{"x":57.5,"y":8.5},{"x":57.9,"y":13.5},{"x":56.9,"y":19.5},{"x":57.6,"y":4.0},{"x":44.4,"y":2.4},{"x":52.0,"y":3.5},{"x":57.4,"y":3.2},{"x":50.0,"y":4.0},
{"x":10.5,"y":2.2},{"x":11.5,"y":3.3},{"x":12.5,"y":1.9},{"x":12.5,"y":4.0},{"x":13.5,"y":2.6},{"x":14.5,"y":1.5},{"x":14.5,"y":3.6},{"x":14.5,"y":5.5},{"x":15.5,"y":2.4},{"x":15.5,"y":4.4},{"x":16.5,"y":1.8},{"x":16.5,"y":4.0},{"x":16.5,"y":6.2},{"x":17.5,"y":2.6},{"x":17.5,"y":4.6},{"x":17.5,"y":6.8},{"x":18.5,"y":2.0},{"x":18.5,"y":3.8},{"x":18.5,"y":5.6},{"x":18.5,"y":7.6},{"x":19.5,"y":2.6},{"x":19.5,"y":4.5},{"x":19.5,"y":6.4},
{"x":20.5,"y":2.0},{"x":20.5,"y":5.0},{"x":20.5,"y":7.2},{"x":20.5,"y":8.8},{"x":21.5,"y":2.6},{"x":21.5,"y":4.2},{"x":21.5,"y":6.0},{"x":21.5,"y":8.8},{"x":22.5,"y":1.8},{"x":22.5,"y":4.6},{"x":22.5,"y":7.4},{"x":22.5,"y":9.6},{"x":23.5,"y":3.2},{"x":23.5,"y":5.8},{"x":23.5,"y":8.4},{"x":23.5,"y":10.4},
{"x":24.5,"y":2.2},{"x":24.5,"y":5.2},{"x":24.5,"y":8.0},{"x":24.5,"y":11.0},{"x":25.5,"y":3.4},{"x":25.5,"y":6.2},{"x":25.5,"y":9.2},{"x":25.5,"y":11.6},{"x":26.5,"y":2.0},{"x":26.5,"y":4.4},{"x":26.5,"y":7.0},{"x":26.5,"y":9.6},{"x":26.5,"y":12.2},{"x":27.5,"y":2.8},{"x":27.5,"y":5.4},{"x":27.5,"y":8.2},{"x":27.5,"y":10.8},{"x":27.5,"y":13.0},
{"x":28.5,"y":3.4},{"x":28.5,"y":6.2},{"x":28.5,"y":8.8},{"x":28.5,"y":11.6},{"x":28.5,"y":13.8},{"x":29.5,"y":2.2},{"x":29.5,"y":4.6},{"x":29.5,"y":7.4},{"x":29.5,"y":10.2},{"x":29.5,"y":12.8},{"x":29.5,"y":15.0},
{"x":30.5,"y":3.2},{"x":30.5,"y":6.4},{"x":30.5,"y":9.4},{"x":30.5,"y":12.2},{"x":30.5,"y":14.6},{"x":31.5,"y":2.6},{"x":31.5,"y":5.0},{"x":31.5,"y":8.0},{"x":31.5,"y":11.0},{"x":31.5,"y":13.8},{"x":31.5,"y":16.2},
{"x":32.5,"y":3.6},{"x":32.5,"y":6.8},{"x":32.5,"y":9.8},{"x":32.5,"y":12.8},{"x":32.5,"y":15.6},{"x":33.5,"y":2.6},{"x":33.5,"y":5.6},{"x":33.5,"y":8.6},{"x":33.5,"y":11.6},{"x":33.5,"y":14.4},{"x":33.5,"y":16.6},
{"x":34.5,"y":3.8},{"x":34.5,"y":6.8},{"x":34.5,"y":9.8},{"x":34.5,"y":12.8},{"x":34.5,"y":15.8},{"x":35.5,"y":3.0},{"x":35.5,"y":5.6},{"x":35.5,"y":8.6},{"x":35.5,"y":11.6},{"x":35.5,"y":14.6},{"x":35.5,"y":17.2},
{"x":36.5,"y":4.2},{"x":36.5,"y":7.2},{"x":36.5,"y":10.2},{"x":36.5,"y":13.2},{"x":36.5,"y":16.2},{"x":36.5,"y":18.4},{"x":37.5,"y":3.4},{"x":37.5,"y":6.0},{"x":37.5,"y":9.0},{"x":37.5,"y":12.0},{"x":37.5,"y":15.0},{"x":37.5,"y":17.8},
{"x":38.5,"y":4.8},{"x":38.5,"y":7.8},{"x":38.5,"y":10.8},{"x":38.5,"y":13.8},{"x":38.5,"y":16.8},{"x":38.5,"y":18.8},{"x":39.5,"y":3.8},{"x":39.5,"y":6.6},{"x":39.5,"y":9.6},{"x":39.5,"y":12.6},{"x":39.5,"y":15.6},{"x":39.5,"y":19.0},
{"x":40.5,"y":5.0},{"x":40.5,"y":8.2},{"x":40.5,"y":11.2},{"x":40.5,"y":14.2},{"x":40.5,"y":17.2},{"x":40.5,"y":19.2},{"x":41.5,"y":4.4},{"x":41.5,"y":7.0},{"x":41.5,"y":10.0},{"x":41.5,"y":13.0},{"x":41.5,"y":16.0},{"x":41.5,"y":18.8},{"x":41.5,"y":21.0},
{"x":42.5,"y":5.6},{"x":42.5,"y":8.6},{"x":42.5,"y":11.6},{"x":42.5,"y":14.6},{"x":42.5,"y":17.6},{"x":42.5,"y":19.8},{"x":43.5,"y":4.8},{"x":43.5,"y":7.4},{"x":43.5,"y":10.4},{"x":43.5,"y":13.4},{"x":43.5,"y":16.4},{"x":43.5,"y":19.4},{"x":43.5,"y":21.6},
{"x":44.5,"y":6.0},{"x":44.5,"y":9.0},{"x":44.5,"y":12.0},{"x":44.5,"y":15.0},{"x":44.5,"y":18.0},{"x":44.5,"y":20.2},{"x":45.5,"y":5.2},{"x":45.5,"y":7.8},{"x":45.5,"y":10.8},{"x":45.5,"y":13.8},{"x":45.5,"y":16.8},{"x":45.5,"y":19.8},{"x":45.5,"y":22.0},
{"x":46.5,"y":6.6},{"x":46.5,"y":9.6},{"x":46.5,"y":12.6},{"x":46.5,"y":15.6},{"x":46.5,"y":18.6},{"x":46.5,"y":20.6},{"x":47.5,"y":5.6},{"x":47.5,"y":8.2},{"x":47.5,"y":11.2},{"x":47.5,"y":14.2},{"x":47.5,"y":17.2},{"x":47.5,"y":20.2},{"x":47.5,"y":22.6},
{"x":48.5,"y":7.0},{"x":48.5,"y":10.0},{"x":48.5,"y":13.0},{"x":48.5,"y":16.0},{"x":48.5,"y":19.0},{"x":48.5,"y":21.2},{"x":49.5,"y":6.0},{"x":49.5,"y":8.6},{"x":49.5,"y":11.6},{"x":49.5,"y":14.6},{"x":49.5,"y":17.6},{"x":49.5,"y":20.6},
{"x":50.5,"y":7.6},{"x":50.5,"y":10.6},{"x":50.5,"y":13.6},{"x":50.5,"y":16.6},{"x":50.5,"y":19.6},{"x":50.5,"y":22.0},{"x":51.5,"y":6.6},{"x":51.5,"y":9.4},{"x":51.5,"y":12.6},{"x":51.5,"y":15.6},{"x":51.5,"y":18.6},{"x":51.5,"y":21.4},
{"x":52.5,"y":8.0},{"x":52.5,"y":11.2},{"x":52.5,"y":14.2},{"x":52.5,"y":17.2},{"x":52.5,"y":20.2},{"x":52.5,"y":23.0},{"x":53.5,"y":7.2},{"x":53.5,"y":10.0},{"x":53.5,"y":13.0},{"x":53.5,"y":16.0},{"x":53.5,"y":19.0},{"x":53.5,"y":22.0},
{"x":54.5,"y":8.6},{"x":54.5,"y":11.8},{"x":54.5,"y":14.8},{"x":54.5,"y":17.8},{"x":54.5,"y":20.8},{"x":54.5,"y":23.4},{"x":55.5,"y":7.6},{"x":55.5,"y":10.6},{"x":55.5,"y":13.6},{"x":55.5,"y":16.6},{"x":55.5,"y":19.6},{"x":55.5,"y":22.4},{"x":56.5,"y":9.0},{"x":56.5,"y":13.0},{"x":56.5,"y":17.0},{"x":56.5,"y":21.0},{"x":57.5,"y":10.5},{"x":57.5,"y":15.5},{"x":57.5,"y":19.0},
{"x":47.7,"y":29.0},{"x":48.9,"y":27.0},{"x":49.3,"y":33.4},{"x":50.5,"y":25.2},{"x":51.8,"y":28.6},{"x":52.9,"y":25.0},{"x":53.8,"y":30.2},{"x":54.8,"y":26.8},{"x":55.8,"y":24.0},{"x":56.6,"y":27.0},{"x":48.0,"y":22.5},{"x":46.5,"y":24.5},{"x":45.5,"y":28.5},{"x":43.2,"y":26.0},{"x":41.8,"y":24.8},{"x":40.2,"y":27.5},{"x":39.0,"y":22.6},{"x":37.8,"y":25.5},{"x":36.2,"y":22.0},{"x":34.2,"y":22.8},{"x":33.0,"y":20.2},{"x":31.0,"y":18.5},{"x":29.0,"y":17.5},{"x":27.8,"y":16.0},{"x":26.0,"y":14.0},{"x":24.0,"y":12.0},{"x":22.5,"y":11.0},{"x":21.0,"y":10.2},
{"x":17.7,"y":16.6},{"x":16.5,"y":9.5},{"x":15.6,"y":8.7},{"x":14.6,"y":6.0},{"x":21.6,"y":19.1},{"x":22.2,"y":15.4},{"x":24.6,"y":25.4},{"x":26.1,"y":22.1},{"x":27.0,"y":24.8},{"x":29.3,"y":21.0},{"x":30.0,"y":28.0},{"x":31.3,"y":31.0},
{"x":25.7,"y":118.9},{"x":45.8,"y":71.9},{"x":55.7,"y":72.3},{"x":36.2,"y":66.1},{"x":35.7,"y":57.7},{"x":36.0,"y":53.6},{"x":30.8,"y":54.2},{"x":38.9,"y":47.2},{"x":44.4,"y":45.5},{"x":44.4,"y":42.6},{"x":46.9,"y":46.3},{"x":43.0,"y":41.0},{"x":38.7,"y":36.4},{"x":37.0,"y":33.4},{"x":37.3,"y":31.4},{"x":24.9,"y":29.0},{"x":27.0,"y":24.6},{"x":31.9,"y":32.0},{"x":32.8,"y":32.5},{"x":34.6,"y":29.6},{"x":35.4,"y":26.7},{"x":40.9,"y":35.8},{"x":42.1,"y":33.1},{"x":39.3,"y":33.5},{"x":43.9,"y":37.2},{"x":44.7,"y":36.8},{"x":54.4,"y":60.2},{"x":55.2,"y":38.3},{"x":56.9,"y":32.5},{"x":57.6,"y":32.9},{"x":57.7,"y":41.9},{"x":60.6,"y":54.6},{"x":62.7,"y":56.3},{"x":67.3,"y":54.6},{"x":67.3,"y":38.9},{"x":62.9,"y":36.2},{"x":63.7,"y":37.0},{"x":64.6,"y":42.0},{"x":70.9,"y":29.5},{"x":78.5,"y":35.8},{"x":76.0,"y":22.0},{"x":79.0,"y":19.5},{"x":79.3,"y":13.6},{"x":77.5,"y":14.9},{"x":73.1,"y":6.0},{"x":73.4,"y":5.6},{"x":71.3,"y":7.4},{"x":71.8,"y":7.0},
{"x":61.0,"y":27.0},{"x":62.5,"y":24.0},{"x":63.8,"y":22.6},{"x":64.2,"y":28.2},{"x":66.5,"y":23.5},{"x":67.8,"y":27.0},{"x":69.7,"y":25.2},{"x":71.5,"y":21.0},{"x":72.6,"y":18.0},{"x":74.0,"y":16.5},{"x":75.2,"y":12.0},{"x":68.0,"y":14.0},{"x":66.0,"y":17.6},{"x":64.5,"y":12.5},{"x":62.0,"y":10.0},{"x":61.2,"y":14.5},{"x":63.0,"y":4.6},{"x":65.6,"y":8.2},{"x":67.2,"y":10.5},{"x":69.0,"y":3.6},{"x":70.4,"y":16.0},{"x":73.6,"y":22.0},{"x":75.8,"y":9.4},{"x":77.0,"y":4.8},{"x":66.8,"y":6.0},{"x":60.6,"y":20.5},{"x":61.6,"y":6.2},{"x":68.6,"y":19.0},{"x":72.2,"y":12.4},{"x":74.8,"y":25.5},{"x":59.0,"y":23.5},{"x":59.4,"y":12.0},{"x":58.5,"y":8.0}
],
"p3a":[{"x":20,"y":0.9},{"x":20,"y":1.3},{"x":20,"y":1.7},{"x":20,"y":2.1},{"x":20,"y":2.5},{"x":20,"y":2.9},{"x":20,"y":3.3},{"x":20,"y":3.7},{"x":20,"y":4.1},{"x":20,"y":4.6},{"x":20,"y":5.0},{"x":20,"y":5.5},{"x":20,"y":6.0},{"x":20,"y":6.5},{"x":20,"y":7.0},{"x":20,"y":7.6},{"x":20,"y":8.2},{"x":20,"y":8.9},{"x":20,"y":9.6},{"x":20,"y":10.4},{"x":20,"y":11.2},{"x":20,"y":12.2},{"x":20,"y":13.3},{"x":20,"y":15.8}],
"p3b":[{"x":60,"y":1.0},{"x":60,"y":1.6},{"x":60,"y":2.2},{"x":60,"y":2.8},{"x":60,"y":3.4},{"x":60,"y":4.0},{"x":60,"y":4.7},{"x":60,"y":5.4},{"x":60,"y":6.1},{"x":60,"y":6.8},{"x":60,"y":7.5},{"x":60,"y":8.2},{"x":60,"y":9.0},{"x":60,"y":9.8},{"x":60,"y":10.6},{"x":60,"y":11.4},{"x":60,"y":12.2},{"x":60,"y":13.0},{"x":60,"y":13.9},{"x":60,"y":14.8},{"x":60,"y":15.7},{"x":60,"y":16.6},{"x":60,"y":17.5},{"x":60,"y":18.5},{"x":60,"y":19.5},{"x":60,"y":20.5},{"x":60,"y":21.5},{"x":60,"y":22.6},{"x":60,"y":23.7},{"x":60,"y":24.8},{"x":60,"y":26.0},{"x":60,"y":27.2},{"x":60,"y":28.5},{"x":60,"y":29.8},{"x":60,"y":31.2},{"x":60,"y":32.8},{"x":60,"y":34.6},{"x":60,"y":38.4},{"x":60,"y":39.5},{"x":60,"y":41.0},{"x":60,"y":42.0},{"x":60,"y":43.6},{"x":60,"y":49.7},{"x":60,"y":55.2},{"x":60,"y":58.2},{"x":60,"y":61.0},{"x":60,"y":63.5},{"x":60,"y":83.8}],
"p4o":[
{"x":0.6,"y":1.3},{"x":0.5,"y":3.7},{"x":0.7,"y":6.1},{"x":0.6,"y":8.5},{"x":0.5,"y":10.9},{"x":0.7,"y":13.3},{"x":1.5,"y":2.5},{"x":1.6,"y":4.9},{"x":1.4,"y":7.3},{"x":1.5,"y":9.7},{"x":1.6,"y":12.1},{"x":1.4,"y":14.5},
{"x":2.5,"y":1.3},{"x":2.6,"y":3.7},{"x":2.4,"y":6.1},{"x":2.5,"y":8.5},{"x":2.6,"y":10.9},{"x":2.4,"y":13.3},{"x":2.5,"y":15.7},{"x":3.5,"y":2.5},{"x":3.4,"y":4.9},{"x":3.6,"y":7.3},{"x":3.5,"y":9.7},{"x":3.4,"y":12.1},{"x":3.6,"y":14.5},{"x":3.2,"y":17.2},
{"x":4.5,"y":1.3},{"x":4.6,"y":3.7},{"x":4.4,"y":6.1},{"x":4.5,"y":8.5},{"x":4.6,"y":10.9},{"x":4.4,"y":13.3},{"x":4.5,"y":15.7},{"x":5.5,"y":2.5},{"x":5.4,"y":4.9},{"x":5.6,"y":7.3},{"x":5.5,"y":9.7},{"x":5.4,"y":12.1},{"x":5.6,"y":14.5},{"x":5.2,"y":16.9},
{"x":6.5,"y":1.3},{"x":6.6,"y":3.7},{"x":6.4,"y":6.1},{"x":6.5,"y":8.5},{"x":6.6,"y":10.9},{"x":6.4,"y":13.3},{"x":6.5,"y":15.7},{"x":7.5,"y":2.5},{"x":7.4,"y":4.9},{"x":7.6,"y":7.3},{"x":7.5,"y":9.7},{"x":7.4,"y":12.1},{"x":7.6,"y":14.5},{"x":7.0,"y":18.2},
{"x":8.5,"y":1.3},{"x":8.6,"y":3.7},{"x":8.4,"y":6.1},{"x":8.5,"y":8.5},{"x":8.6,"y":10.9},{"x":8.4,"y":13.3},{"x":8.5,"y":15.7},{"x":9.5,"y":2.5},{"x":9.4,"y":4.9},{"x":9.6,"y":7.3},{"x":9.5,"y":9.7},{"x":9.4,"y":12.1},{"x":9.6,"y":14.5},{"x":9.2,"y":17.0},
{"x":10.5,"y":1.3},{"x":10.6,"y":3.7},{"x":10.4,"y":6.1},{"x":10.5,"y":8.5},{"x":10.6,"y":10.9},{"x":10.4,"y":13.3},{"x":10.5,"y":15.7},{"x":11.5,"y":2.5},{"x":11.4,"y":4.9},{"x":11.6,"y":7.3},{"x":11.5,"y":9.7},{"x":11.4,"y":12.1},{"x":11.6,"y":14.5},{"x":11.0,"y":18.6},
{"x":12.5,"y":1.3},{"x":12.6,"y":3.7},{"x":12.4,"y":6.1},{"x":12.5,"y":8.5},{"x":12.6,"y":10.9},{"x":12.4,"y":13.3},{"x":12.5,"y":15.7},{"x":13.5,"y":2.5},{"x":13.4,"y":4.9},{"x":13.6,"y":7.3},{"x":13.5,"y":9.7},{"x":13.4,"y":12.1},{"x":13.6,"y":14.5},{"x":13.2,"y":16.9},
{"x":14.5,"y":1.3},{"x":14.6,"y":3.7},{"x":14.4,"y":6.1},{"x":14.5,"y":8.5},{"x":14.6,"y":10.9},{"x":14.4,"y":13.3},{"x":14.5,"y":15.7},{"x":15.5,"y":2.5},{"x":15.4,"y":4.9},{"x":15.6,"y":7.3},{"x":15.5,"y":9.7},{"x":15.4,"y":12.1},{"x":15.6,"y":14.5},{"x":15.0,"y":18.0},
{"x":16.5,"y":1.3},{"x":16.6,"y":3.7},{"x":16.4,"y":6.1},{"x":16.5,"y":8.5},{"x":16.6,"y":10.9},{"x":16.4,"y":13.3},{"x":16.5,"y":15.7},{"x":17.5,"y":2.5},{"x":17.4,"y":4.9},{"x":17.6,"y":7.3},{"x":17.5,"y":9.7},{"x":17.4,"y":12.1},{"x":17.6,"y":14.5},{"x":17.2,"y":17.2},
{"x":18.5,"y":1.3},{"x":18.6,"y":3.7},{"x":18.4,"y":6.1},{"x":18.5,"y":8.5},{"x":18.6,"y":10.9},{"x":18.4,"y":13.3},{"x":18.5,"y":15.7},{"x":19.5,"y":2.5},{"x":19.4,"y":4.9},{"x":19.6,"y":7.3},{"x":19.5,"y":9.7},{"x":19.4,"y":12.1},{"x":19.6,"y":14.5},
{"x":20.5,"y":1.3},{"x":20.6,"y":3.7},{"x":20.4,"y":6.1},{"x":20.5,"y":8.5},{"x":20.6,"y":10.9},{"x":20.4,"y":13.3},{"x":21.5,"y":2.5},{"x":21.4,"y":4.9},{"x":21.6,"y":7.3},{"x":21.5,"y":9.7},{"x":21.4,"y":12.1},{"x":21.6,"y":14.5},
{"x":22.5,"y":1.3},{"x":22.6,"y":3.7},{"x":22.4,"y":6.1},{"x":22.5,"y":8.5},{"x":22.6,"y":10.9},{"x":22.4,"y":13.3},{"x":23.5,"y":2.5},{"x":23.4,"y":4.9},{"x":23.6,"y":7.3},{"x":23.5,"y":9.7},{"x":23.4,"y":12.1},{"x":23.6,"y":14.5},
{"x":24.5,"y":1.3},{"x":24.6,"y":3.7},{"x":24.4,"y":6.1},{"x":24.5,"y":8.5},{"x":24.6,"y":10.9},{"x":24.4,"y":13.3},{"x":25.5,"y":2.5},{"x":25.4,"y":4.9},{"x":25.6,"y":7.3},{"x":25.5,"y":9.7},{"x":25.4,"y":12.1},{"x":25.6,"y":14.5},
{"x":26.5,"y":1.3},{"x":26.6,"y":3.7},{"x":26.4,"y":6.1},{"x":26.5,"y":8.5},{"x":26.6,"y":10.9},{"x":26.4,"y":13.3},{"x":27.5,"y":2.5},{"x":27.4,"y":4.9},{"x":27.6,"y":7.3},{"x":27.5,"y":9.7},{"x":27.4,"y":12.1},{"x":27.6,"y":14.5},
{"x":28.5,"y":1.3},{"x":28.6,"y":3.7},{"x":28.4,"y":6.1},{"x":28.5,"y":8.5},{"x":28.6,"y":10.9},{"x":28.4,"y":13.3},{"x":29.5,"y":2.5},{"x":29.4,"y":4.9},{"x":29.6,"y":7.3},{"x":29.5,"y":9.7},{"x":29.4,"y":12.1},{"x":29.6,"y":14.5},
{"x":30.5,"y":1.6},{"x":30.6,"y":4.0},{"x":30.4,"y":6.4},{"x":30.5,"y":8.8},{"x":30.6,"y":11.2},{"x":31.5,"y":2.8},{"x":31.4,"y":5.2},{"x":31.6,"y":7.6},{"x":31.5,"y":10.0},{"x":31.4,"y":12.4},
{"x":32.5,"y":1.6},{"x":32.6,"y":4.0},{"x":32.4,"y":6.4},{"x":32.5,"y":8.8},{"x":32.6,"y":11.2},{"x":33.5,"y":2.8},{"x":33.4,"y":5.2},{"x":33.6,"y":7.6},{"x":33.5,"y":10.0},{"x":33.4,"y":12.4},
{"x":34.5,"y":1.6},{"x":34.6,"y":4.0},{"x":34.4,"y":6.4},{"x":34.5,"y":8.8},{"x":34.6,"y":11.2},{"x":35.5,"y":2.8},{"x":35.4,"y":5.2},{"x":35.6,"y":7.6},{"x":35.5,"y":10.0},{"x":35.4,"y":12.4},
{"x":36.5,"y":1.6},{"x":36.6,"y":4.0},{"x":36.4,"y":6.4},{"x":36.5,"y":8.8},{"x":36.6,"y":11.2},{"x":37.5,"y":2.8},{"x":37.4,"y":5.2},{"x":37.6,"y":7.6},{"x":37.5,"y":10.0},{"x":37.4,"y":12.4},
{"x":38.5,"y":1.6},{"x":38.6,"y":4.0},{"x":38.4,"y":6.4},{"x":38.5,"y":8.8},{"x":38.6,"y":11.2},{"x":39.5,"y":2.8},{"x":39.4,"y":5.2},{"x":39.6,"y":7.6},{"x":39.5,"y":10.0},{"x":39.4,"y":12.4},
{"x":40.7,"y":2.8},{"x":40.7,"y":5.6},{"x":40.8,"y":8.4},{"x":40.6,"y":11.2},{"x":40.7,"y":14.0},{"x":40.7,"y":17.0},
{"x":42.1,"y":4.0},{"x":42.1,"y":6.8},{"x":42.2,"y":9.6},{"x":42.0,"y":12.4},{"x":42.1,"y":15.2},{"x":42.1,"y":19.5},
{"x":43.6,"y":3.0},{"x":43.6,"y":5.8},{"x":43.7,"y":8.6},{"x":43.5,"y":11.4},{"x":43.6,"y":14.2},{"x":43.6,"y":17.5},
{"x":45.0,"y":4.2},{"x":45.0,"y":7.0},{"x":45.1,"y":9.8},{"x":44.9,"y":12.6},{"x":45.0,"y":15.4},{"x":45.0,"y":20.5},
{"x":46.5,"y":3.2},{"x":46.5,"y":6.0},{"x":46.6,"y":8.8},{"x":46.4,"y":11.6},{"x":46.5,"y":14.4},{"x":46.5,"y":17.8},
{"x":47.9,"y":4.4},{"x":47.9,"y":7.2},{"x":48.0,"y":10.0},{"x":47.8,"y":12.8},{"x":47.9,"y":15.6},{"x":47.9,"y":19.0},
{"x":49.4,"y":3.4},{"x":49.4,"y":6.2},{"x":49.5,"y":9.0},{"x":49.3,"y":11.8},{"x":49.4,"y":14.6},{"x":49.4,"y":18.0},{"x":49.4,"y":21.5},
{"x":50.8,"y":4.6},{"x":50.8,"y":7.4},{"x":50.9,"y":10.2},{"x":50.7,"y":13.0},{"x":50.8,"y":15.8},{"x":50.8,"y":19.5},
{"x":52.3,"y":3.6},{"x":52.3,"y":6.4},{"x":52.4,"y":9.2},{"x":52.2,"y":12.0},{"x":52.3,"y":14.8},{"x":52.3,"y":17.8},
{"x":53.7,"y":4.8},{"x":53.7,"y":7.6},{"x":53.8,"y":10.4},{"x":53.6,"y":13.2},{"x":53.7,"y":16.0},{"x":53.7,"y":20.5},
{"x":55.2,"y":3.8},{"x":55.2,"y":6.6},{"x":55.3,"y":9.4},{"x":55.1,"y":12.2},{"x":55.2,"y":15.0},{"x":55.2,"y":18.5},
{"x":56.6,"y":5.0},{"x":56.6,"y":7.8},{"x":56.7,"y":10.6},{"x":56.5,"y":13.4},{"x":56.6,"y":16.2},{"x":56.6,"y":20.0},
{"x":58.1,"y":4.0},{"x":58.1,"y":6.8},{"x":58.2,"y":9.6},{"x":58.0,"y":12.4},{"x":58.1,"y":15.2},{"x":58.1,"y":18.8},
{"x":61.4,"y":5.5},{"x":61.4,"y":8.5},{"x":61.5,"y":11.5},{"x":61.3,"y":14.5},{"x":61.4,"y":17.5},{"x":61.4,"y":21.0},
{"x":62.8,"y":7.0},{"x":62.8,"y":10.0},{"x":62.9,"y":13.0},{"x":62.7,"y":16.0},{"x":62.8,"y":19.5},
{"x":64.2,"y":5.2},{"x":64.2,"y":8.6},{"x":64.3,"y":12.0},{"x":64.1,"y":15.5},{"x":64.2,"y":22.0},
{"x":65.7,"y":7.5},{"x":65.7,"y":11.0},{"x":65.8,"y":14.5},{"x":65.6,"y":18.0},
{"x":67.1,"y":9.0},{"x":67.1,"y":13.0},{"x":67.2,"y":17.0},{"x":67.0,"y":23.5},
{"x":68.6,"y":6.5},{"x":68.6,"y":11.5},{"x":68.7,"y":16.0},
{"x":41.4,"y":4.2},{"x":41.4,"y":9.8},{"x":41.4,"y":15.6},{"x":42.9,"y":2.6},{"x":42.9,"y":8.2},{"x":42.9,"y":13.8},{"x":44.3,"y":5.6},{"x":44.3,"y":11.0},{"x":44.3,"y":16.8},{"x":45.8,"y":2.8},{"x":45.8,"y":8.4},{"x":45.8,"y":13.8},{"x":47.2,"y":5.8},{"x":47.2,"y":11.2},{"x":47.2,"y":16.6},{"x":48.7,"y":3.0},{"x":48.7,"y":8.6},{"x":48.7,"y":14.0},{"x":50.1,"y":6.0},{"x":50.1,"y":11.6},{"x":50.1,"y":17.0},{"x":51.6,"y":3.2},{"x":51.6,"y":8.8},{"x":51.6,"y":14.2},{"x":53.0,"y":6.2},{"x":53.0,"y":11.8},{"x":53.0,"y":17.6},{"x":54.5,"y":3.4},{"x":54.5,"y":9.0},{"x":54.5,"y":14.4},{"x":55.9,"y":6.4},{"x":55.9,"y":12.0},{"x":55.9,"y":17.8},{"x":57.3,"y":3.6},{"x":57.3,"y":9.2},{"x":57.3,"y":14.6},{"x":58.8,"y":7.0},{"x":58.8,"y":12.8},{"x":62.1,"y":8.8},{"x":62.1,"y":14.0},{"x":63.5,"y":6.6},{"x":63.5,"y":11.2},{"x":65.0,"y":9.4},{"x":65.0,"y":16.5},
{"x":72.5,"y":123.5},{"x":83.3,"y":87.4},{"x":49.9,"y":73.5},{"x":18.2,"y":64.1},{"x":23.8,"y":60.4},{"x":13.0,"y":45.0},{"x":56.9,"y":46.3},{"x":70.4,"y":53.0},{"x":72.4,"y":58.9},{"x":73.9,"y":51.4},{"x":74.8,"y":51.0},{"x":45.6,"y":40.8},{"x":41.2,"y":40.4},{"x":36.1,"y":37.2},{"x":40.1,"y":37.2},{"x":5.9,"y":32.9},{"x":7.0,"y":30.4},{"x":3.7,"y":25.4},{"x":6.3,"y":24.9},{"x":17.0,"y":32.6},{"x":19.0,"y":32.6},{"x":23.1,"y":29.3},{"x":28.2,"y":32.7},{"x":31.4,"y":26.6},{"x":32.8,"y":24.7},{"x":36.3,"y":33.8},{"x":37.4,"y":37.1},{"x":38.9,"y":31.7},{"x":41.0,"y":31.3},{"x":41.5,"y":37.1},{"x":42.4,"y":40.4},{"x":43.3,"y":28.7},{"x":46.6,"y":41.2},{"x":47.7,"y":26.0},{"x":48.2,"y":25.7},{"x":51.0,"y":34.4},{"x":51.2,"y":26.0},{"x":53.4,"y":27.7},{"x":54.7,"y":20.0},{"x":56.8,"y":29.7},{"x":61.4,"y":30.0},{"x":63.2,"y":30.8},{"x":64.3,"y":30.4},{"x":65.6,"y":37.9},{"x":67.1,"y":39.2},{"x":87.4,"y":41.0},{"x":83.8,"y":37.7},{"x":85.0,"y":37.5},{"x":100.2,"y":36.5},{"x":102.4,"y":27.6},{"x":114.7,"y":26.9},{"x":117.0,"y":30.2},{"x":108.9,"y":17.8},{"x":100.0,"y":18.4},{"x":95.2,"y":33.4},
{"x":70.0,"y":26.0},{"x":71.5,"y":31.0},{"x":72.8,"y":29.0},{"x":73.5,"y":36.0},{"x":74.5,"y":27.0},{"x":75.5,"y":20.5},{"x":76.0,"y":10.0},{"x":77.0,"y":25.0},{"x":78.5,"y":20.0},{"x":79.0,"y":31.0},{"x":80.0,"y":17.5},{"x":80.6,"y":24.0},{"x":81.0,"y":32.5},{"x":82.2,"y":21.5},{"x":83.0,"y":17.0},{"x":84.0,"y":25.0},{"x":84.5,"y":19.5},{"x":85.5,"y":28.5},{"x":86.5,"y":37.0},{"x":87.5,"y":22.0},{"x":88.2,"y":25.5},{"x":89.0,"y":19.0},{"x":90.0,"y":30.0},{"x":91.0,"y":27.5},{"x":92.0,"y":30.0},{"x":93.0,"y":31.5},{"x":94.5,"y":17.0},{"x":96.0,"y":25.5},{"x":98.0,"y":26.5},{"x":91.5,"y":17.5},{"x":89.5,"y":24.5},{"x":86.5,"y":14.5},{"x":82.0,"y":10.5},{"x":78.0,"y":12.5},{"x":75.0,"y":16.0},{"x":73.0,"y":12.0},{"x":71.0,"y":8.0},{"x":70.2,"y":17.0},{"x":69.4,"y":22.0},{"x":68.2,"y":28.5},{"x":66.0,"y":26.0},{"x":60.8,"y":24.0},{"x":62.2,"y":26.5},{"x":58.8,"y":25.5},{"x":57.5,"y":23.0},{"x":55.8,"y":25.0},{"x":59.0,"y":31.5},{"x":57.8,"y":36.5},{"x":26.0,"y":17.5},{"x":28.5,"y":20.0},{"x":22.5,"y":18.0},{"x":25.0,"y":22.0},{"x":30.0,"y":18.5},{"x":33.5,"y":16.5},{"x":35.5,"y":19.5},{"x":37.0,"y":15.5},{"x":38.5,"y":22.0},{"x":39.5,"y":17.5},{"x":34.0,"y":22.5},{"x":44.0,"y":23.5},{"x":46.0,"y":22.5},{"x":50.0,"y":24.0},{"x":52.5,"y":22.0},{"x":11.5,"y":22.0},{"x":14.0,"y":20.0},{"x":8.0,"y":22.5},{"x":2.0,"y":19.0},{"x":16.5,"y":21.0},{"x":1.0,"y":17.0},{"x":62.0,"y":3.5},{"x":66.5,"y":4.0},{"x":55.0,"y":2.5},{"x":45.0,"y":1.5},{"x":38.0,"y":0.9}
],
"p4a":[{"x":20,"y":1.0},{"x":20,"y":1.5},{"x":20,"y":2.0},{"x":20,"y":2.5},{"x":20,"y":3.0},{"x":20,"y":3.6},{"x":20,"y":4.2},{"x":20,"y":4.8},{"x":20,"y":5.4},{"x":20,"y":6.0},{"x":20,"y":6.6},{"x":20,"y":7.2},{"x":20,"y":7.9},{"x":20,"y":8.6},{"x":20,"y":9.3},{"x":20,"y":10.0},{"x":20,"y":10.8},{"x":20,"y":11.6},{"x":20,"y":12.4},{"x":20,"y":13.3},{"x":20,"y":14.2},{"x":20,"y":15.1},{"x":20,"y":16.1},{"x":20,"y":17.1},{"x":20,"y":18.2},{"x":20,"y":19.3},{"x":20,"y":20.4},{"x":20,"y":21.5},{"x":20,"y":22.7},{"x":20,"y":26.0},{"x":20,"y":27.0},{"x":20,"y":32.0},{"x":20,"y":38.4}],
"p4b":[{"x":60,"y":1.0},{"x":60,"y":1.6},{"x":60,"y":2.2},{"x":60,"y":2.8},{"x":60,"y":3.4},{"x":60,"y":4.1},{"x":60,"y":4.8},{"x":60,"y":5.5},{"x":60,"y":6.2},{"x":60,"y":7.0},{"x":60,"y":7.8},{"x":60,"y":8.6},{"x":60,"y":9.4},{"x":60,"y":10.3},{"x":60,"y":11.2},{"x":60,"y":12.1},{"x":60,"y":13.0},{"x":60,"y":14.0},{"x":60,"y":15.2},{"x":60,"y":16.4},{"x":60,"y":17.5},{"x":60,"y":18.5},{"x":60,"y":21.0},{"x":60,"y":22.3},{"x":60,"y":23.5},{"x":60,"y":24.5},{"x":60,"y":25.5},{"x":60,"y":26.3},{"x":60,"y":27.2},{"x":60,"y":28.3},{"x":60,"y":32.0},{"x":60,"y":33.0},{"x":60,"y":34.2},{"x":60,"y":35.0},{"x":60,"y":36.0},{"x":60,"y":37.0},{"x":60,"y":38.0},{"x":60,"y":39.0},{"x":60,"y":39.8},{"x":60,"y":40.5}]
},
"columns":2,
"spacing":{"row":125,"column":112},
"bounds":"flush",
"resolve":{"scale":{"color":"independent"},"legend":{"color":"independent"}},
"concat":[
{"width":355,"height":196,"title":{"text":["Frank Copula TRMM/GPM Data set","vₘₐₓ vs. pₘₐₓ"]},
"resolve":{"axis":{"x":"independent","y":"independent"}},
"layer":[
{"data":{"name":"p1o"},"mark":{"type":"circle","size":15,"opacity":1,"clip":true},
"encoding":{"x":{"field":"x","type":"quantitative","scale":{"domain":[8,79],"nice":false,"zero":false},"axis":{"title":"Maximum sustained wind speeds (vₘₐₓ) [m/s]","values":[20,40,60]}},
"y":{"field":"y","type":"quantitative","scale":{"domain":[1,124],"nice":false,"zero":false},"axis":{"title":"Maximum rainfall (pₘₐₓ) [mm/hr]","values":[20,40,60,80,100,120]}},
"color":{"datum":"o","type":"nominal","scale":{"domain":["o","a","b"],"range":["#0072BD","#77AC30","#EDB120"]},"legend":{"title":null,"rowPadding":6,"labelExpr":"datum.label == 'o' ? 'observed data' : datum.label == 'a' ? '100 samples at vₘₐₓ = 20 m/s' : '100 samples at vₘₐₓ = 60 m/s'"}}}},
{"data":{"name":"p1a"},"mark":{"type":"circle","size":15,"opacity":1,"clip":true},
"encoding":{"x":{"field":"x","type":"quantitative","scale":{"domain":[8,79],"nice":false,"zero":false},"axis":{"orient":"top","labels":false,"title":null,"grid":false,"values":[20,40,60]}},
"y":{"field":"y","type":"quantitative","scale":{"domain":[1,124],"nice":false,"zero":false},"axis":{"orient":"right","labels":false,"title":null,"grid":false,"values":[20,40,60,80,100,120]}},
"color":{"datum":"a","type":"nominal"}}},
{"data":{"name":"p1b"},"mark":{"type":"circle","size":15,"opacity":1,"clip":true},
"encoding":{"x":{"field":"x","type":"quantitative","scale":{"domain":[8,79],"nice":false,"zero":false},"axis":null},
"y":{"field":"y","type":"quantitative","scale":{"domain":[1,124],"nice":false,"zero":false},"axis":null},
"color":{"datum":"b","type":"nominal"}}}
]},
{"width":355,"height":196,"title":{"text":["Frank Copula TRMM/GPM Data set","ΔP vs. pₘₐₓ"]},
"resolve":{"axis":{"x":"independent","y":"independent"}},
"layer":[
{"data":{"name":"p2o"},"mark":{"type":"circle","size":15,"opacity":1,"clip":true},
"encoding":{"x":{"field":"x","type":"quantitative","scale":{"domain":[0.2,117.3],"nice":false,"zero":false},"axis":{"title":"Pressure deficit (ΔP) [hPa]","values":[20,40,60,80,100]}},
"y":{"field":"y","type":"quantitative","scale":{"domain":[1,124],"nice":false,"zero":false},"axis":{"title":"Maximum rainfall (pₘₐₓ) [mm/hr]","values":[20,40,60,80,100,120]}},
"color":{"datum":"o","type":"nominal","scale":{"domain":["o","a","b"],"range":["#0072BD","#77AC30","#EDB120"]},"legend":{"title":null,"rowPadding":3,"labelExpr":"datum.label == 'o' ? 'observed data' : datum.label == 'a' ? '100 samples at ΔP = 20 hPa' : '100 samples at ΔP = 60 hPa'"}}}},
{"data":{"name":"p2a"},"mark":{"type":"circle","size":15,"opacity":1,"clip":true},
"encoding":{"x":{"field":"x","type":"quantitative","scale":{"domain":[0.2,117.3],"nice":false,"zero":false},"axis":{"orient":"top","labels":false,"title":null,"grid":false,"values":[20,40,60,80,100]}},
"y":{"field":"y","type":"quantitative","scale":{"domain":[1,124],"nice":false,"zero":false},"axis":{"orient":"right","labels":false,"title":null,"grid":false,"values":[20,40,60,80,100,120]}},
"color":{"datum":"a","type":"nominal"}}},
{"data":{"name":"p2b"},"mark":{"type":"circle","size":15,"opacity":1,"clip":true},
"encoding":{"x":{"field":"x","type":"quantitative","scale":{"domain":[0.2,117.3],"nice":false,"zero":false},"axis":null},
"y":{"field":"y","type":"quantitative","scale":{"domain":[1,124],"nice":false,"zero":false},"axis":null},
"color":{"datum":"b","type":"nominal"}}}
]},
{"width":355,"height":196,"title":{"text":["Frank Copula Stage IV Blend Data set","vₘₐₓ vs. pₘₐₓ"]},
"resolve":{"axis":{"x":"independent","y":"independent"}},
"layer":[
{"data":{"name":"p3o"},"mark":{"type":"circle","size":15,"opacity":1,"clip":true},
"encoding":{"x":{"field":"x","type":"quantitative","scale":{"domain":[8,79],"nice":false,"zero":false},"axis":{"title":"Maximum sustained wind speeds (vₘₐₓ) [m/s]","values":[20,40,60]}},
"y":{"field":"y","type":"quantitative","scale":{"domain":[0.8,124.2],"nice":false,"zero":false},"axis":{"title":"Maximum rainfall (pₘₐₓ) [mm/hr]","values":[20,40,60,80,100,120]}},
"color":{"datum":"o","type":"nominal","scale":{"domain":["o","a","b"],"range":["#0072BD","#77AC30","#EDB120"]},"legend":{"title":null,"rowPadding":6,"labelExpr":"datum.label == 'o' ? 'observed data' : datum.label == 'a' ? '100 samples at vₘₐₓ = 20 m/s' : '100 samples at vₘₐₓ = 60 m/s'"}}}},
{"data":{"name":"p3a"},"mark":{"type":"circle","size":15,"opacity":1,"clip":true},
"encoding":{"x":{"field":"x","type":"quantitative","scale":{"domain":[8,79],"nice":false,"zero":false},"axis":{"orient":"top","labels":false,"title":null,"grid":false,"values":[20,40,60]}},
"y":{"field":"y","type":"quantitative","scale":{"domain":[0.8,124.2],"nice":false,"zero":false},"axis":{"orient":"right","labels":false,"title":null,"grid":false,"values":[20,40,60,80,100,120]}},
"color":{"datum":"a","type":"nominal"}}},
{"data":{"name":"p3b"},"mark":{"type":"circle","size":15,"opacity":1,"clip":true},
"encoding":{"x":{"field":"x","type":"quantitative","scale":{"domain":[8,79],"nice":false,"zero":false},"axis":null},
"y":{"field":"y","type":"quantitative","scale":{"domain":[0.8,124.2],"nice":false,"zero":false},"axis":null},
"color":{"datum":"b","type":"nominal"}}}
]},
{"width":355,"height":196,"title":{"text":["Gaussian Copula Stage IV Blend Data set","ΔP vs. pₘₐₓ"]},
"resolve":{"axis":{"x":"independent","y":"independent"}},
"layer":[
{"data":{"name":"p4o"},"mark":{"type":"circle","size":15,"opacity":1,"clip":true},
"encoding":{"x":{"field":"x","type":"quantitative","scale":{"domain":[0.2,117.3],"nice":false,"zero":false},"axis":{"title":"Pressure deficit (ΔP) [hPa]","values":[20,40,60,80,100]}},
"y":{"field":"y","type":"quantitative","scale":{"domain":[0.8,124.2],"nice":false,"zero":false},"axis":{"title":"Maximum rainfall (pₘₐₓ) [mm/hr]","values":[20,40,60,80,100,120]}},
"color":{"datum":"o","type":"nominal","scale":{"domain":["o","a","b"],"range":["#0072BD","#77AC30","#EDB120"]},"legend":{"title":null,"rowPadding":3,"labelExpr":"datum.label == 'o' ? 'observed data' : datum.label == 'a' ? '100 samples at ΔP = 20 hPa' : '100 samples at ΔP = 60 hPa'"}}}},
{"data":{"name":"p4a"},"mark":{"type":"circle","size":15,"opacity":1,"clip":true},
"encoding":{"x":{"field":"x","type":"quantitative","scale":{"domain":[0.2,117.3],"nice":false,"zero":false},"axis":{"orient":"top","labels":false,"title":null,"grid":false,"values":[20,40,60,80,100]}},
"y":{"field":"y","type":"quantitative","scale":{"domain":[0.8,124.2],"nice":false,"zero":false},"axis":{"orient":"right","labels":false,"title":null,"grid":false,"values":[20,40,60,80,100,120]}},
"color":{"datum":"a","type":"nominal"}}},
{"data":{"name":"p4b"},"mark":{"type":"circle","size":15,"opacity":1,"clip":true},
"encoding":{"x":{"field":"x","type":"quantitative","scale":{"domain":[0.2,117.3],"nice":false,"zero":false},"axis":null},
"y":{"field":"y","type":"quantitative","scale":{"domain":[0.8,124.2],"nice":false,"zero":false},"axis":null},
"color":{"datum":"b","type":"nominal"}}}
]}
]
}
